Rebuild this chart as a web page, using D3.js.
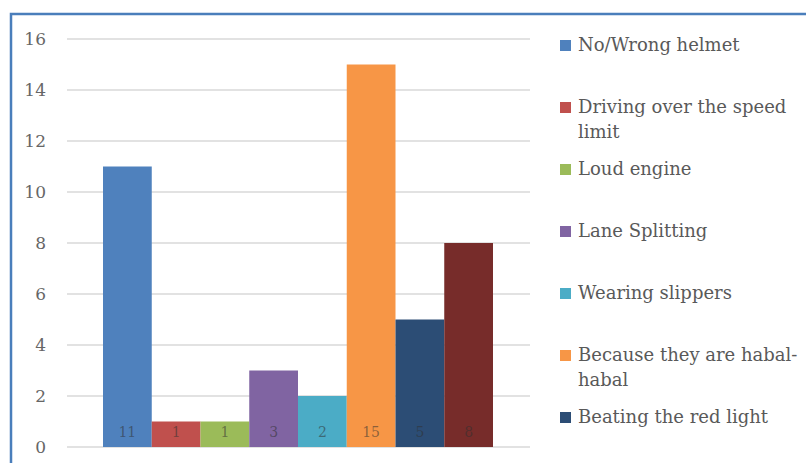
<!DOCTYPE html>
<html>
<head>
<meta charset="utf-8">
<script src="https://cdn.jsdelivr.net/npm/d3@7"></script>
<style>
  html, body { margin: 0; padding: 0; background: #fff; }
  svg { display: block; }
</style>
</head>
<body>
<div id="chart"></div>
<script>
// data
const series = ['No/Wrong helmet', 'Driving over the speed limit', 'Loud engine', 'Lane Splitting',
                'Wearing slippers', 'Because they are habal-habal', 'Beating the red light', 'Others'];
const values = [11, 1, 1, 3, 2, 15, 5, 8];
const legendLines = [['No/Wrong helmet'], ['Driving over the speed', 'limit'], ['Loud engine'], ['Lane Splitting'],
                     ['Wearing slippers'], ['Because they are habal-', 'habal'], ['Beating the red light'], ['Others']];
const yTicks = [0, 2, 4, 6, 8, 10, 12, 14, 16];
const colors = ['#4F81BD', '#C0504D', '#9BBB59', '#8064A2', '#4BACC6', '#F79646', '#2C4D75', '#772C2A'];

const W = 806, H = 463;
const svg = d3.select('#chart').append('svg')
    .attr('width', W).attr('height', H);

// outer frame (runs off the right and bottom edge)
svg.append('rect')
    .attr('x', 11).attr('y', 14)
    .attr('width', 820).attr('height', 480)
    .attr('fill', '#fff')
    .attr('stroke', '#4A7EBB').attr('stroke-width', 2.5);

const y = d3.scaleLinear().domain([0, 16]).range([447, 39]);
const x = d3.scaleBand().domain(series).range([103, 493]).padding(0);

// gridlines
svg.append('g')
  .selectAll('line')
  .data(yTicks)
  .enter().append('line')
    .attr('x1', 67).attr('x2', 530)
    .attr('y1', d => y(d)).attr('y2', d => y(d))
    .attr('stroke', '#D9D9D9').attr('stroke-width', 1.5);

// y axis labels
const yAxis = svg.append('g')
    .attr('transform', 'translate(46,0)')
    .call(d3.axisLeft(y).tickValues(yTicks).tickSize(0).tickPadding(0));
yAxis.select('.domain').remove();
yAxis.selectAll('text')
    .attr('font-family', 'DejaVu Serif')
    .attr('font-size', 17)
    .attr('fill', '#666');

// bars
svg.append('g')
  .selectAll('rect')
  .data(values)
  .enter().append('rect')
    .attr('x', (d, i) => x(series[i]))
    .attr('y', d => y(d))
    .attr('width', x.bandwidth())
    .attr('height', d => y(0) - y(d))
    .attr('fill', (d, i) => colors[i]);

// value labels at the base of each bar
svg.append('g')
  .selectAll('text')
  .data(values)
  .enter().append('text')
    .attr('x', (d, i) => x(series[i]) + x.bandwidth() / 2)
    .attr('y', y(0) - 10)
    .attr('text-anchor', 'middle')
    .attr('font-family', 'DejaVu Serif')
    .attr('font-size', 14)
    .attr('fill', '#303030')
    .attr('fill-opacity', 0.55)
    .text(d => d);

// legend (the last entry falls below the visible area, as in the source)
const legendY = i => 45 + i * 62;
const shown = series.map((d, i) => i).filter(i => legendY(i) + 10 < H);

const legend = svg.append('g')
  .selectAll('g')
  .data(shown)
  .enter().append('g')
    .attr('transform', i => `translate(560,${legendY(i)})`);

legend.append('rect')
    .attr('x', 0).attr('y', -5)
    .attr('width', 11).attr('height', 11)
    .attr('fill', i => colors[i]);

legend.each(function(i) {
  const t = d3.select(this).append('text')
      .attr('font-family', 'DejaVu Serif')
      .attr('font-size', 18)
      .attr('fill', '#595959');
  legendLines[i].forEach((line, j) => {
    t.append('tspan')
        .attr('x', 18)
        .attr('y', 6 + j * 25)
        .text(line);
  });
});
</script>
</body>
</html>
